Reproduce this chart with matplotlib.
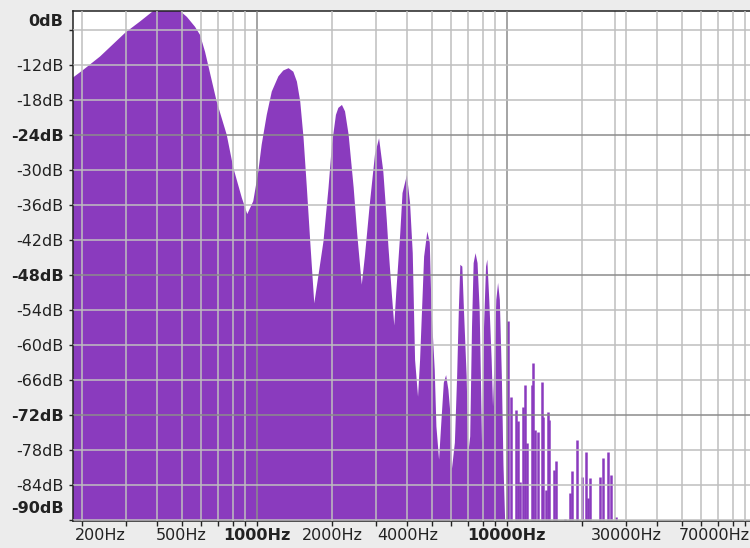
import matplotlib
matplotlib.use('Agg')
import matplotlib.pyplot as plt
import matplotlib.transforms as mtransforms

# spectrum envelope (Hz, dB)
env_freq = [184, 202, 236, 298, 341, 385, 493, 525, 566, 593, 621, 691, 758, 806, 871,
            916, 968, 1014, 1046, 1096, 1148, 1220, 1276, 1340, 1400, 1447, 1492, 1538,
            1586, 1636, 1698, 1766, 1848, 1936, 1998, 2073, 2120, 2191, 2254, 2330, 2441,
            2524, 2630, 2710, 2830, 2970, 3084, 3207, 3311, 3362, 3466, 3548, 3612, 3750,
            3828, 3986, 4103, 4206, 4297, 4416, 4500, 4610, 4670, 4810, 4920, 5000, 5150,
            5230, 5360, 5480, 5600, 5720, 5840, 5930, 6030, 6200, 6330, 6430, 6520, 6640,
            6740, 6910, 7020, 7140, 7260, 7370, 7500, 7640, 7790, 7900, 7960, 8110, 8260,
            8360, 8510, 8700, 8810, 9080, 9230, 9380, 9560, 9700, 9850]
env_db = [-14.1, -12.8, -10.5, -6.4, -4.5, -2.7, -2.7, -3.7, -5.4, -6.8, -9.7, -18.2, -23.9,
          -29.6, -34.7, -37.5, -35.3, -30.2, -25.6, -20.5, -16.5, -13.9, -12.9, -12.5, -13.1,
          -14.8, -18.2, -24.4, -33.0, -42.2, -52.8, -47.9, -42.2, -33.0, -25.6, -20.5, -19.3,
          -18.8, -19.9, -23.9, -33.0, -41.1, -49.6, -44.5, -35.9, -27.3, -24.5, -30.2, -38.5,
          -43.1, -51.0, -56.6, -51.0, -40.7, -33.9, -30.8, -35.6, -44.2, -62.5, -68.8, -62.5,
          -51.0, -44.8, -40.5, -42.4, -53.9, -64.2, -73.9, -79.6, -72.8, -66.4, -65.1, -67.6,
          -71.0, -81.3, -76.7, -65.3, -53.9, -46.2, -46.5, -53.9, -65.3, -78.4, -75.6, -56.8,
          -45.9, -44.2, -45.9, -53.9, -68.2, -76.7, -56.8, -46.5, -45.3, -52.2, -62.5, -70.5,
          -52.2, -49.3, -52.2, -65.6, -80.5, -90.0]

# isolated harmonic lines above 10 kHz
spike_freq = [10130, 10390, 10900, 11100, 11300, 11650, 11820, 12060, 12570, 12780,
              13020, 13300, 13800, 14020, 14310, 14570, 14760, 15420, 15690, 17020,
              17900, 18200, 19100, 20080, 20760, 21040, 21600, 23650, 24330, 25420,
              26160, 27330]
spike_db = [-55.9, -68.8, -71.0, -73.0, -83.4, -70.5, -66.8, -76.7, -66.8, -63.0,
            -74.5, -74.8, -66.2, -72.2, -84.8, -71.4, -72.8, -81.3, -79.9, -89.7,
            -85.3, -81.6, -76.3, -82.5, -78.2, -86.2, -82.8, -82.5, -79.3, -78.2,
            -82.2, -89.4]

x_ticks = [200, 300, 400, 500, 600, 700, 800, 900,
           1000, 2000, 3000, 4000, 5000, 6000, 7000, 8000, 9000,
           10000, 20000, 30000, 40000, 50000, 60000, 70000, 80000, 90000]
x_labels = {200: '200Hz', 500: '500Hz', 1000: '1000Hz', 2000: '2000Hz', 4000: '4000Hz',
            10000: '10000Hz', 30000: '30000Hz', 70000: '70000Hz'}
x_bold = [1000, 10000]
y_ticks = [-6, -12, -18, -24, -30, -36, -42, -48, -54, -60, -66, -72, -78, -84, -90]
y_bold = [-24, -48, -72]

purple = '#8a3bbe'
light = '#bfbfbf'
dark = '#8c8c8c'

fig = plt.figure(figsize=(7.5, 5.48), dpi=100, facecolor='#ececec')
ax = fig.add_axes([73 / 750, 27 / 548, 679 / 750, 510 / 548])
ax.set_facecolor('white')
ax.set_xscale('log')

ax.fill_between(env_freq, env_db, -100, color=purple, linewidth=0, zorder=1)
ax.vlines(spike_freq, -100, spike_db, colors=purple, linewidth=1.8, zorder=1)

ax.set_xlim(184, 95700)
ax.set_ylim(-90.1, -2.7)

ax.set_xticks(x_ticks)
ax.set_xticklabels([x_labels.get(t, '') for t in x_ticks])
ax.xaxis.set_minor_locator(matplotlib.ticker.NullLocator())
ax.set_yticks(y_ticks)
ax.set_yticklabels(['' if t in (-6, -90) else '%ddB' % t for t in y_ticks])

ax.set_axisbelow(False)
ax.grid(True, color=light, linewidth=1.1)
for t, tick in zip(x_ticks, ax.xaxis.get_major_ticks()):
    if t in x_bold:
        tick.gridline.set_color(dark)
        tick.label1.set_fontweight('bold')
for t, tick in zip(y_ticks, ax.yaxis.get_major_ticks()):
    if t in y_bold:
        tick.gridline.set_color(dark)
        tick.label1.set_fontweight('bold')
ax.axvline(27000, color=light, linewidth=1.1, zorder=2.5)

ax.tick_params(axis='x', length=3.5, width=1, pad=1.5, labelsize=11.5, colors='#222222')
ax.tick_params(axis='y', length=3, width=1, pad=3.6, labelsize=11.5, colors='#222222')

# the ruler keeps the first and last labels inside the plot
shifts = {200: 13, 70000: -3}
for t, lab in zip(x_ticks, ax.get_xticklabels()):
    if t in shifts:
        off = mtransforms.ScaledTranslation(shifts[t] / 72, 0, fig.dpi_scale_trans)
        lab.set_transform(lab.get_transform() + off)

for db, txt in [(-4.5, '0dB'), (-87.9, '-90dB')]:
    ax.annotate(txt, xy=(0, db), xycoords=('axes fraction', 'data'), xytext=(-7, 0),
                textcoords='offset points', ha='right', va='center', fontsize=11.5,
                fontweight='bold', color='#222222')

for side in ['left', 'bottom', 'top', 'right']:
    ax.spines[side].set_color('#222222')
    ax.spines[side].set_linewidth(1.1)

fig.savefig('out.png', dpi=100, facecolor=fig.get_facecolor())
